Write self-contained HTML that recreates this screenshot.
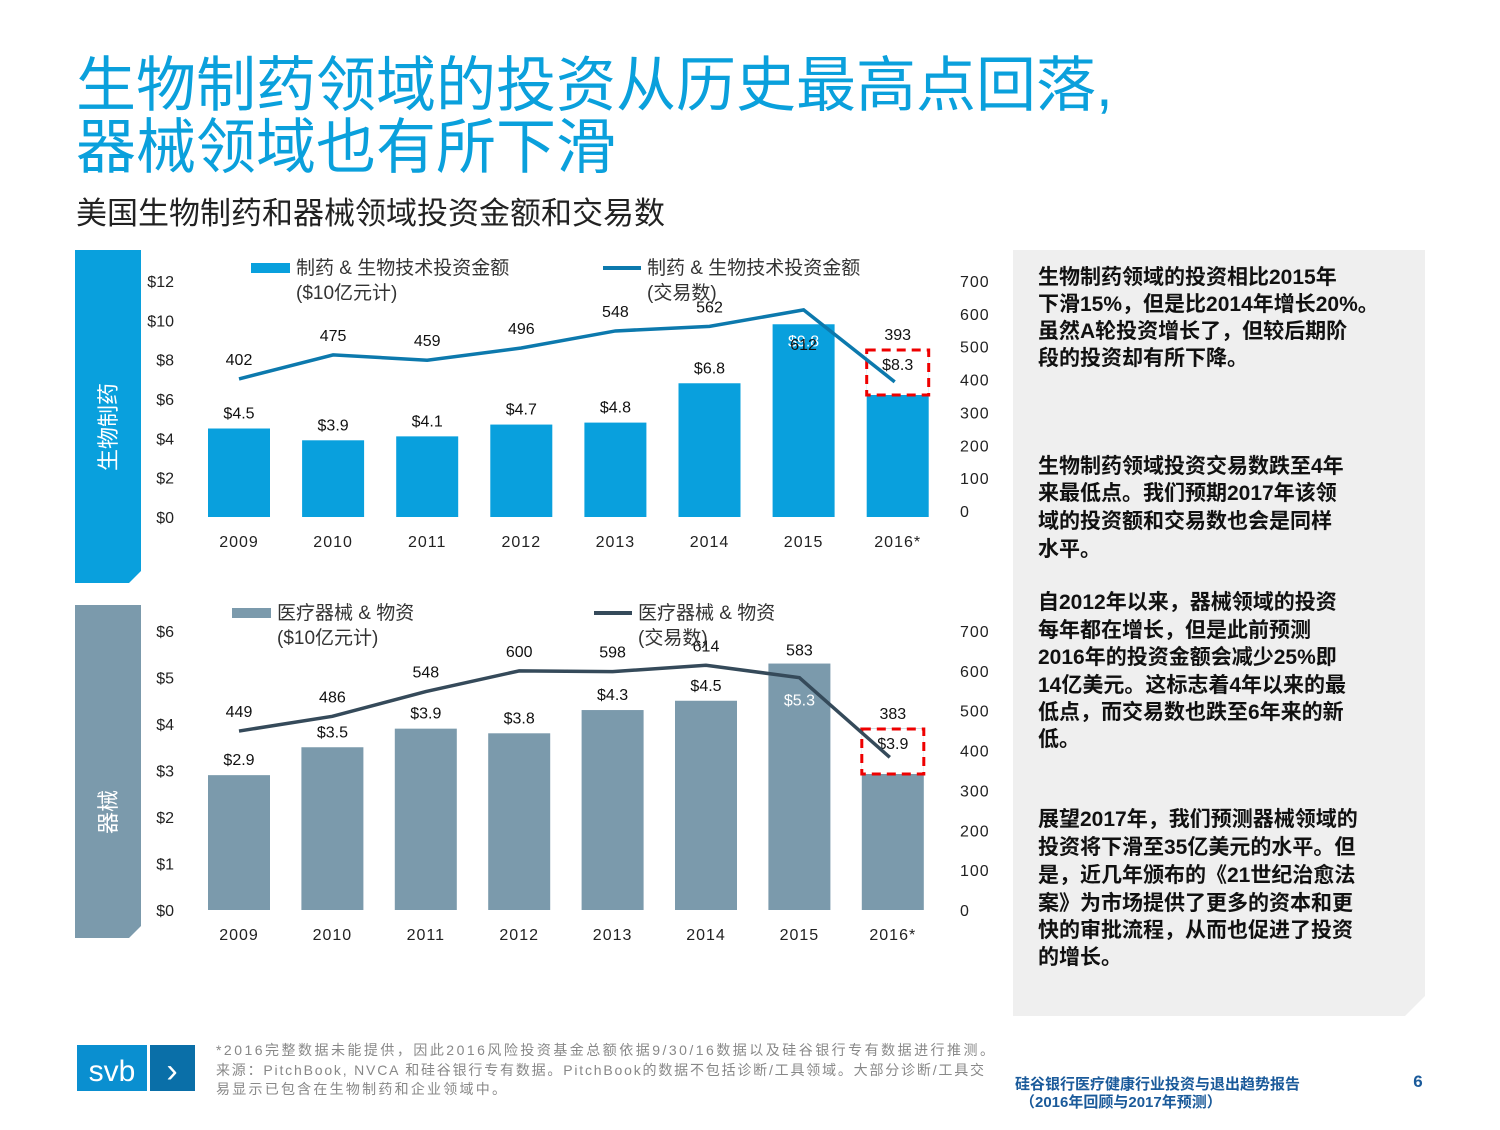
<!DOCTYPE html>
<html><head><meta charset="utf-8"><style>
body{margin:0;background:#fff;}
svg text{font-family:"Liberation Sans","Noto Sans CJK SC",sans-serif;}
</style></head><body>
<svg width="1500" height="1125" viewBox="0 0 1500 1125" xmlns="http://www.w3.org/2000/svg">
<text x="76" y="106" font-size="60" fill="#0aa0dc">生物制药领域的投资从历史最高点回落,</text>
<text x="76" y="168" font-size="60" fill="#0aa0dc">器械领域也有所下滑</text>
<text x="76" y="224" font-size="31" fill="#222">美国生物制药和器械领域投资金额和交易数</text>

<polygon points="75,250 141,250 141,571 129,583 75,583" fill="#09a0dd"/>
<text transform="translate(116,427) rotate(-90)" text-anchor="middle" font-size="22" fill="#fff">生物制药</text>
<polygon points="75,605 141,605 141,926 129,938 75,938" fill="#7b9aac"/>
<text transform="translate(116,812) rotate(-90)" text-anchor="middle" font-size="22" fill="#fff">器械</text>

<polygon points="1013,250 1425,250 1425,996 1405,1016 1013,1016" fill="#efefef"/>
<g font-size="21" font-weight="bold" fill="#111">
<text x="1038" y="284">生物制药领域的投资相比2015年</text>
<text x="1038" y="311">下滑15%，但是比2014年增长20%。</text>
<text x="1038" y="338">虽然A轮投资增长了，但较后期阶</text>
<text x="1038" y="365">段的投资却有所下降。</text>
<text x="1038" y="473">生物制药领域投资交易数跌至4年</text>
<text x="1038" y="500">来最低点。我们预期2017年该领</text>
<text x="1038" y="528">域的投资额和交易数也会是同样</text>
<text x="1038" y="556">水平。</text>
<text x="1038" y="609">自2012年以来，器械领域的投资</text>
<text x="1038" y="637">每年都在增长，但是此前预测</text>
<text x="1038" y="664">2016年的投资金额会减少25%即</text>
<text x="1038" y="692">14亿美元。这标志着4年以来的最</text>
<text x="1038" y="719">低点，而交易数也跌至6年来的新</text>
<text x="1038" y="746">低。</text>
<text x="1038" y="826">展望2017年，我们预测器械领域的</text>
<text x="1038" y="854">投资将下滑至35亿美元的水平。但</text>
<text x="1038" y="882">是，近几年颁布的《21世纪治愈法</text>
<text x="1038" y="910">案》为市场提供了更多的资本和更</text>
<text x="1038" y="937">快的审批流程，从而也促进了投资</text>
<text x="1038" y="964">的增长。</text>
</g>

<g id="top"></g>
<g id="bot"></g>

<rect x="77" y="1045" width="70" height="46" fill="#0a8fd0"/>
<text x="112" y="1081" font-size="30" fill="#fff" text-anchor="middle">svb</text>
<rect x="150" y="1045" width="45" height="46" fill="#0a6fa8"/>
<text x="172" y="1082" font-size="34" fill="#fff" text-anchor="middle">›</text>
<g font-size="14" fill="#888">
<text x="216" y="1055" textLength="778" lengthAdjust="spacing">*2016完整数据未能提供，因此2016风险投资基金总额依据9/30/16数据以及硅谷银行专有数据进行推测。</text>
<text x="216" y="1075" textLength="768" lengthAdjust="spacing">来源：PitchBook, NVCA 和硅谷银行专有数据。PitchBook的数据不包括诊断/工具领域。大部分诊断/工具交</text>
<text x="216" y="1094" textLength="290" lengthAdjust="spacing">易显示已包含在生物制药和企业领域中。</text>
</g>
<text x="1015" y="1089" font-size="15" font-weight="bold" fill="#1a5a9a">硅谷银行医疗健康行业投资与退出趋势报告</text>
<text x="1020" y="1107" font-size="15" font-weight="bold" fill="#1a5a9a">（2016年回顾与2017年预测）</text>
<text x="1418" y="1087" font-size="17" font-weight="bold" fill="#1a5a9a" text-anchor="middle">6</text>
</svg>
<script>
const years = ["2009","2010","2011","2012","2013","2014","2015","2016*"];
const bioAmounts = [4.5,3.9,4.1,4.7,4.8,6.8,9.8,8.3];
const bioDeals = [402,475,459,496,548,562,612,393];
const bioLeftTicks = ["$0","$2","$4","$6","$8","$10","$12"];
const devAmounts = [2.9,3.5,3.9,3.8,4.3,4.5,5.3,3.9];
const devDeals = [449,486,548,600,598,614,583,383];
const devLeftTicks = ["$0","$1","$2","$3","$4","$5","$6"];
const rightTicks = ["0","100","200","300","400","500","600","700"];

const NS="http://www.w3.org/2000/svg";
function mk(parent,tag,attrs,txt){const e=document.createElementNS(NS,tag);for(const k in attrs)e.setAttribute(k,attrs[k]);if(txt!==undefined)e.textContent=txt;parent.appendChild(e);return e;}

function drawChart(g,cfg){
  const xC=i=>cfg.x0+i*cfg.dx;
  const yL=v=>cfg.base-v*(cfg.base-cfg.leftTop)/cfg.leftMax;
  const yR=v=>cfg.rBase-v*(cfg.rBase-cfg.rTop)/700;
  cfg.leftTicks.forEach((t,i)=>{
    const v=i*cfg.leftMax/(cfg.leftTicks.length-1);
    const e=mk(g,'text',{x:cfg.lx,y:yL(v)+6,'font-size':16,fill:'#222','text-anchor':'end'},t);
    
    
  });
  rightTicks.forEach((t,i)=>{
    const e=mk(g,'text',{x:960,y:yR(+t)+6,'font-size':16,fill:'#222','letter-spacing':'1'},t);
    
    
  });
  cfg.amounts.forEach((v,i)=>{
    const y=yL(v);
    const r=mk(g,'rect',{x:xC(i)-31,y:y,width:62,height:cfg.base-y,fill:cfg.color});
    
    
    const yl=mk(g,'text',{x:xC(i),y:cfg.base+30,'font-size':16,fill:'#222','text-anchor':'middle','letter-spacing':'1'},years[i]);
    
    
  });
  // projected portion box for 2016
  const bx=mk(g,'rect',{x:xC(7)-31,y:cfg.boxY,width:62,height:cfg.boxH,fill:'#fff',stroke:'#e00','stroke-width':3,'stroke-dasharray':'9,6'});
  
  
  cfg.amounts.forEach((v,i)=>{
    const y=yL(v);
    let ly=y-10, fill='#111';
    if(i===6){ly=y+cfg.in6;fill='#fff';}
    if(i===7){ly=cfg.boxY+20;}
    const l=mk(g,'text',{x:xC(i),y:ly,'font-size':16,fill:fill,'text-anchor':'middle'},'$'+v.toFixed(1));
    
    
  });
  const pts=cfg.deals.map((v,i)=>[xC(i),yR(v)]);
  pts[7][0]-=3;
  const pl=mk(g,'polyline',{points:pts.map(p=>p.join(',')).join(' '),fill:'none',stroke:cfg.lineColor,'stroke-width':3.5});
  
  
  cfg.deals.forEach((v,i)=>{
    let ty=pts[i][1]-14;
    if(i===6) ty=pts[i][1]+cfg.d6;
    if(i===7) ty=cfg.boxY-10;
    const t=mk(g,'text',{x:xC(i),y:ty,'font-size':16,fill:'#111','text-anchor':'middle'},String(v));
    
    
  });
  // legend
  const lr=mk(g,'rect',{x:cfg.legX,y:cfg.legY-5,width:39,height:10,fill:cfg.color});
  
  
  const lt1=mk(g,'text',{x:cfg.legX+45,y:cfg.legY+6,'font-size':19,fill:'#333'},cfg.legText);
  
  
  const lt2=mk(g,'text',{x:cfg.legX+45,y:cfg.legY+31,'font-size':19,fill:'#333'},'($10亿元计)');
  
  
  const ll=mk(g,'line',{x1:cfg.leg2X,y1:cfg.legY,x2:cfg.leg2X+38,y2:cfg.legY,stroke:cfg.lineColor,'stroke-width':4});
  
  
  const lt3=mk(g,'text',{x:cfg.leg2X+44,y:cfg.legY+6,'font-size':19,fill:'#333'},cfg.legText);
  
  
  const lt4=mk(g,'text',{x:cfg.leg2X+44,y:cfg.legY+31,'font-size':19,fill:'#333'},'(交易数)');
  
  
}
drawChart(document.getElementById('top'),{amounts:bioAmounts,deals:bioDeals,leftTicks:bioLeftTicks,leftMax:12,
  x0:239,dx:94.1,base:517,leftTop:281,rBase:511,rTop:281,lx:174,color:'#09a0dd',lineColor:'#0c79ad',
  boxY:350,boxH:45,in6:22,d6:40,legX:251,legY:268,leg2X:603,legText:'制药 & 生物技术投资金额'});
drawChart(document.getElementById('bot'),{amounts:devAmounts,deals:devDeals,leftTicks:devLeftTicks,leftMax:6,
  x0:239,dx:93.4,base:910,leftTop:631,rBase:910,rTop:631,lx:174,color:'#7b9aac',lineColor:'#354a5a',
  boxY:729,boxH:45,in6:42,d6:-22,legX:232,legY:613,leg2X:594,legText:'医疗器械 & 物资'});
</script>
</body></html>
